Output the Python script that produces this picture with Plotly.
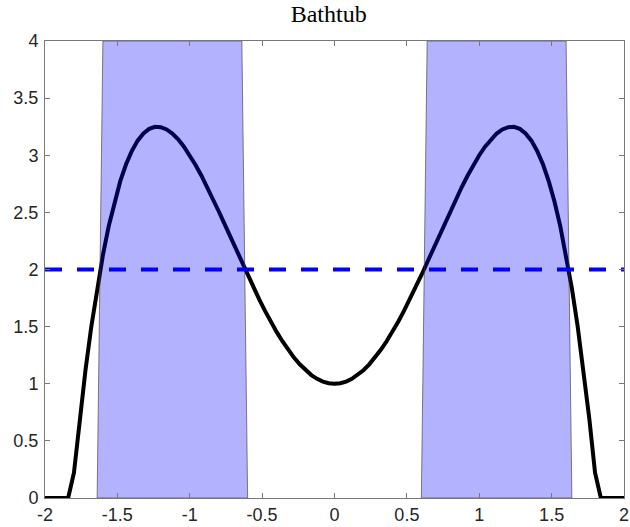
import plotly.graph_objects as go

# Curve samples
x_curve = [-2.00, -1.96, -1.92, -1.88, -1.84, -1.80, -1.76, -1.72, -1.68, -1.64,
           -1.60, -1.56, -1.52, -1.48, -1.44, -1.40, -1.36, -1.32, -1.28, -1.24,
           -1.20, -1.16, -1.12, -1.08, -1.04, -1.00, -0.96, -0.92, -0.88, -0.84,
           -0.80, -0.76, -0.72, -0.68, -0.64, -0.60, -0.56, -0.52, -0.48, -0.44,
           -0.40, -0.36, -0.32, -0.28, -0.24, -0.20, -0.16, -0.12, -0.08, -0.04,
           0.00, 0.04, 0.08, 0.12, 0.16, 0.20, 0.24, 0.28, 0.32, 0.36,
           0.40, 0.44, 0.48, 0.52, 0.56, 0.60, 0.64, 0.68, 0.72, 0.76,
           0.80, 0.84, 0.88, 0.92, 0.96, 1.00, 1.04, 1.08, 1.12, 1.16,
           1.20, 1.24, 1.28, 1.32, 1.36, 1.40, 1.44, 1.48, 1.52, 1.56,
           1.60, 1.64, 1.68, 1.72, 1.76, 1.80, 1.84, 1.88, 1.92, 1.96, 2.00]
y_curve = [0.000, 0.000, 0.000, 0.000, 0.000, 0.222, 0.698, 1.123, 1.501, 1.835,
           2.126, 2.378, 2.593, 2.773, 2.921, 3.038, 3.128, 3.191, 3.231, 3.249,
           3.246, 3.226, 3.190, 3.139, 3.075, 3.000, 2.915, 2.823, 2.724, 2.619,
           2.510, 2.399, 2.287, 2.173, 2.061, 1.950, 1.842, 1.738, 1.638, 1.543,
           1.454, 1.372, 1.297, 1.229, 1.170, 1.118, 1.076, 1.043, 1.019, 1.005,
           1.000, 1.005, 1.019, 1.043, 1.076, 1.118, 1.170, 1.229, 1.297, 1.372,
           1.454, 1.543, 1.638, 1.738, 1.842, 1.950, 2.061, 2.173, 2.287, 2.399,
           2.510, 2.619, 2.724, 2.823, 2.915, 3.000, 3.075, 3.139, 3.190, 3.226,
           3.246, 3.249, 3.231, 3.191, 3.128, 3.038, 2.921, 2.773, 2.593, 2.378,
           2.126, 1.835, 1.501, 1.123, 0.698, 0.222, 0.000, 0.000, 0.000, 0.000, 0.000]

# Shaded regions (polygon corners)
patch_left_x = [-1.64, -0.60, -0.64, -1.60, -1.64]
patch_right_x = [0.60, 1.64, 1.60, 0.64, 0.60]
patch_y = [0, 0, 4, 4, 0]

# Threshold line
thr_x = [-2, 2]
thr_y = [2, 2]

x_ticks = [-2, -1.5, -1, -0.5, 0, 0.5, 1, 1.5, 2]
x_tick_labels = ["-2", "-1.5", "-1", "-0.5", "0", "0.5", "1", "1.5", "2"]
y_ticks = [0, 0.5, 1, 1.5, 2, 2.5, 3, 3.5, 4]
y_tick_labels = ["0", "0.5", "1", "1.5", "2", "2.5", "3", "3.5", "4"]

fig = go.Figure()
fig.add_trace(go.Scatter(x=x_curve, y=y_curve, mode="lines",
                         line=dict(color="black", width=4), showlegend=False))
for px in (patch_left_x, patch_right_x):
    fig.add_trace(go.Scatter(x=px, y=patch_y, mode="lines", fill="toself",
                             fillcolor="rgba(0,0,255,0.3)",
                             line=dict(color="rgba(60,60,60,0.8)", width=0.8),
                             showlegend=False))
fig.add_trace(go.Scatter(x=thr_x, y=thr_y, mode="lines",
                         line=dict(color="rgb(0,0,255)", width=4, dash="17px,15px"),
                         showlegend=False))

axis_common = dict(showgrid=False, zeroline=False, showline=True, mirror="ticks",
                   linecolor="rgb(120,120,120)", linewidth=1, automargin=False,
                   ticks="inside", ticklen=5, tickcolor="rgb(120,120,120)",
                   tickfont=dict(family="Liberation Sans, Arial, sans-serif", size=18,
                                 color="rgb(38,38,38)"))

fig.update_xaxes(range=[-2, 2], tickvals=x_ticks, ticktext=x_tick_labels, **axis_common)
fig.update_yaxes(range=[0, 4], tickvals=y_ticks, ticktext=y_tick_labels,
                 ticklabelstandoff=2, **axis_common)

fig.update_layout(
    width=630, height=527,
    margin=dict(l=45, r=6, t=41, b=29),
    paper_bgcolor="white", plot_bgcolor="white",
    title=dict(text="Bathtub", xref="paper", x=0.49, xanchor="center",
               yref="container", y=0.99, yanchor="top",
               font=dict(family="Liberation Serif, Times New Roman, serif", size=24,
                         color="black")),
)

fig.write_html("out.html")
